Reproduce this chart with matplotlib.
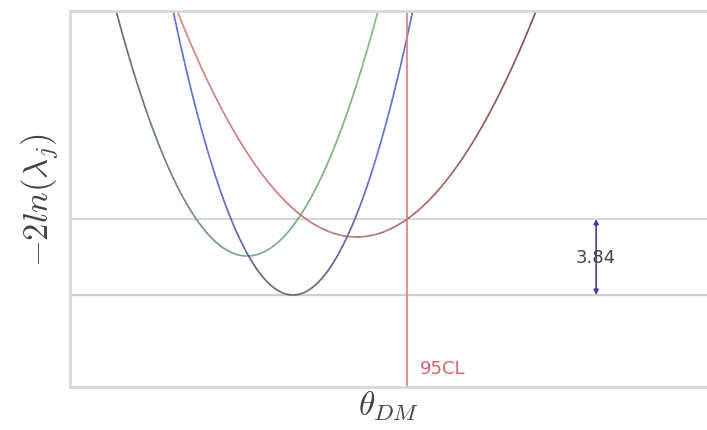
import numpy as np
import matplotlib
matplotlib.use("Agg")
from matplotlib import pyplot as plt
from matplotlib.collections import LineCollection
from matplotlib.colors import to_rgb

plt.rcParams['mathtext.fontset'] = 'cm'

# parabolas  y = a * (x - x0)**2 + ymin
x0s   = [2.78, 3.50, 4.50]
ymins = [1.97, 0.00, 2.93]
curv  = [2.93, 4.06, 1.44]
# colour at start / end of each curve
c_from = ['#56665a', '#5565e8', '#e27a7a']
c_to   = ['#74bd74', '#5565e8', '#7a4444']
c_mid  = [None, '#45475f', None]

delta = 3.84          # chi2 threshold between the two reference lines
xlim = (0, 10)
ylim = (-4.65, 14.35)

fig = plt.figure(figsize=(7.07, 4.31), dpi=100)
ax = fig.add_axes([0.099, 0.0998, 0.901, 0.8724])

def blend(c1, c2, t):
    c1, c2 = np.array(to_rgb(c1)), np.array(to_rgb(c2))
    return c1 + (c2 - c1) * t

for i in range(3):
    half = np.sqrt((ylim[1] + 0.5 - ymins[i]) / curv[i])
    x = np.linspace(x0s[i] - half, x0s[i] + half, 400)
    y = curv[i] * (x - x0s[i]) ** 2 + ymins[i]
    pts = np.column_stack([x, y]).reshape(-1, 1, 2)
    segs = np.concatenate([pts[:-1], pts[1:]], axis=1)
    if c_mid[i] is None:
        t = np.linspace(0, 1, len(segs))
        cols = [blend(c_from[i], c_to[i], tt) for tt in t]
    else:
        h = (y[:-1] - ymins[i]) / (ylim[1] - ymins[i])
        cols = [blend(c_mid[i], c_from[i], min(1, hh * 2.2)) for hh in h]
    ax.add_collection(LineCollection(segs, colors=cols, linewidths=1.2))

# 95% CL: where the red curve crosses the upper line
x_cl = x0s[2] + np.sqrt((delta - ymins[2]) / curv[2])

ax.axhline(0, color='#cfcfcf', lw=1.6, zorder=0)
ax.axhline(delta, color='#cfcfcf', lw=1.2, zorder=0)
ax.axvline(x_cl, color='#e07a80', lw=1.2)
ax.text(x_cl + 0.2, -3.95, '95CL', color='#e0606a', fontsize=13)

ax.annotate('', xy=(8.26, delta), xytext=(8.26, 0),
            arrowprops=dict(arrowstyle='<|-|>', color='#3a3fb0', lw=1.2,
                            mutation_scale=7, shrinkA=0, shrinkB=0))
ax.text(8.26, delta / 2, '3.84', ha='center', va='center', fontsize=13,
        color='#444444')

ax.set_xlim(xlim)
ax.set_ylim(ylim)
ax.set_xticks([])
ax.set_yticks([])
for s in ['left', 'bottom', 'top']:
    ax.spines[s].set_color('#d8d8d8')
    ax.spines[s].set_linewidth(2)
ax.spines['right'].set_visible(False)

ax.set_xlabel(r'$\theta_{DM}$', fontsize=24, color='#444444', labelpad=1)
ax.set_ylabel(r'$-2ln(\lambda_j)$', fontsize=25, color='#444444', labelpad=6)

fig.savefig('out.png', dpi=100)
